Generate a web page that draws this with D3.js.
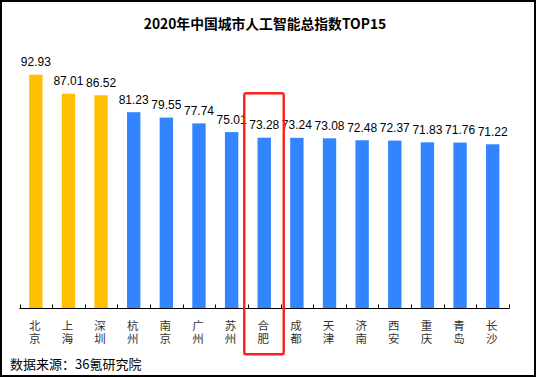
<!DOCTYPE html>
<html>
<head>
<meta charset="utf-8">
<script src="https://cdn.jsdelivr.net/npm/d3@7/dist/d3.min.js"></script>
<style>
html,body{margin:0;padding:0;background:#fff;}
svg{display:block;}
</style>
</head>
<body>
<svg id="chart" width="536" height="377"></svg>
<script>
const cities = ["北京","上海","深圳","杭州","南京","广州","苏州","合肥","成都","天津","济南","西安","重庆","青岛","长沙"];
const values = [92.93,87.01,86.52,81.23,79.55,77.74,75.01,73.28,73.24,73.08,72.48,72.37,71.83,71.76,71.22];
const highlighted = ["北京","上海","深圳"];
const focusCity = "合肥";
const titleText = "2020年中国城市人工智能总指数TOP15";
const sourceText = "数据来源：36氪研究院";

const svg = d3.select("#chart");
const left = 19.5, right = 509, baseY = 308.5;
const cjk = "'Noto Sans CJK SC', 'Liberation Sans', sans-serif";

svg.append("rect").attr("x",1).attr("y",1).attr("width",534).attr("height",375)
  .attr("fill","#fff").attr("stroke","#000").attr("stroke-width",2);

svg.append("text").attr("x",265).attr("y",29).attr("text-anchor","middle")
  .attr("font-family",cjk).attr("font-weight","bold").attr("font-size",13.8)
  .attr("fill","#000").text(titleText);

const x = d3.scaleBand().domain(cities).range([left,right]).paddingInner(0.59).paddingOuter(0.295);
const y = d3.scaleLinear().domain([20,100]).range([baseY, baseY - 80*3.206]);

svg.selectAll("rect.bar").data(cities).enter().append("rect").attr("class","bar")
  .attr("x",d=>x(d)).attr("width",x.bandwidth())
  .attr("y",(d,i)=>y(values[i])).attr("height",(d,i)=>baseY-y(values[i]))
  .attr("fill",d=>highlighted.includes(d)?"#FFC000":"#3385FF");

svg.selectAll("text.val").data(cities).enter().append("text").attr("class","val")
  .attr("x",d=>x(d)+x.bandwidth()/2).attr("y",(d,i)=>y(values[i])-8.5)
  .attr("text-anchor","middle").attr("font-family","'Liberation Sans', Arial, sans-serif")
  .attr("font-size",12).attr("fill","#000")
  .text((d,i)=>values[i].toFixed(2));

// axis line + ticks between categories
const axisG = svg.append("g");
axisG.append("line").attr("x1",left).attr("x2",right).attr("y1",baseY).attr("y2",baseY)
  .attr("stroke","#000").attr("stroke-width",1);
const tickXs = d3.range(cities.length+1).map(i=>left + i*(right-left)/cities.length);
axisG.selectAll("line.tick").data(tickXs).enter().append("line")
  .attr("x1",d=>Math.round(d)+0.5).attr("x2",d=>Math.round(d)+0.5)
  .attr("y1",baseY).attr("y2",baseY-4).attr("stroke","#000").attr("stroke-width",1);

// vertical category labels (vertical writing mode, one text per city)
svg.selectAll("text.lab").data(cities).enter().append("text").attr("class","lab")
  .attr("x",d=>x(d)+x.bandwidth()/2-1).attr("y",319.5)
  .attr("writing-mode","tb").style("writing-mode","vertical-rl")
  .attr("letter-spacing",1.5)
  .attr("font-family",cjk).attr("font-size",11.5).attr("fill","#333")
  .text(d=>d);

// highlight box around focus city
const fx = x(focusCity)+x.bandwidth()/2;
svg.append("rect").attr("x",fx-20).attr("y",93.2).attr("width",39.5).attr("height",261)
  .attr("rx",2).attr("fill","none").attr("stroke","#FF1F1F").attr("stroke-width",2.4);

svg.append("text").attr("x",10).attr("y",369).attr("font-family",cjk)
  .attr("font-size",13).attr("fill","#000").text(sourceText);
</script>
</body>
</html>
